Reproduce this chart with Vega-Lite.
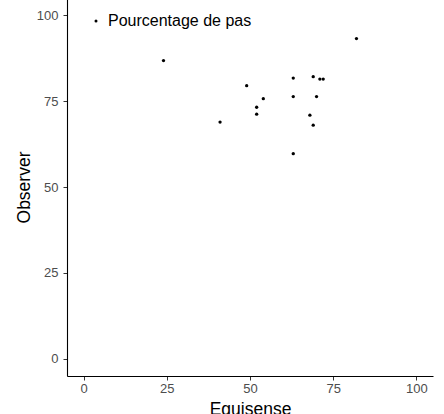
{
  "$schema": "https://vega.github.io/schema/vega-lite/v6.json",
  "autosize": {"type": "none"},
  "width": 366,
  "height": 378,
  "padding": {"left": 67, "top": -2, "right": 11, "bottom": 38},
  "background": "white",
  "config": {
    "view": {"stroke": null},
    "font": "Liberation Sans",
    "axis": {
      "grid": false,
      "domainColor": "black",
      "domainWidth": 1.1,
      "tickColor": "#333333",
      "tickSize": 4,
      "labelColor": "#4D4D4D",
      "labelFontSize": 13,
      "labelFont": "Liberation Sans",
      "titleFont": "Liberation Sans",
      "titleFontSize": 17.5,
      "titleFontWeight": "normal",
      "titleColor": "black"
    }
  },
  "data": {
    "values": [
      {"Equisense": 24, "Observer": 86.8},
      {"Equisense": 41, "Observer": 68.9},
      {"Equisense": 49, "Observer": 79.5},
      {"Equisense": 52, "Observer": 73.2},
      {"Equisense": 52, "Observer": 71.2},
      {"Equisense": 54, "Observer": 75.7},
      {"Equisense": 63, "Observer": 81.7},
      {"Equisense": 63, "Observer": 76.3},
      {"Equisense": 63, "Observer": 59.7},
      {"Equisense": 69, "Observer": 82.1},
      {"Equisense": 71, "Observer": 81.4},
      {"Equisense": 72, "Observer": 81.4},
      {"Equisense": 70, "Observer": 76.3},
      {"Equisense": 68, "Observer": 70.9},
      {"Equisense": 69, "Observer": 68.0},
      {"Equisense": 82, "Observer": 93.2}
    ]
  },
  "mark": {"type": "circle", "size": 11, "opacity": 1},
  "encoding": {
    "x": {
      "field": "Equisense", "type": "quantitative",
      "scale": {"domain": [-5, 105], "nice": false, "zero": false},
      "axis": {"values": [0, 25, 50, 75, 100], "title": "Equisense", "titlePadding": 5, "labelPadding": 2}
    },
    "y": {
      "field": "Observer", "type": "quantitative",
      "scale": {"domain": [-5, 105], "nice": false, "zero": false},
      "axis": {"values": [0, 25, 50, 75, 100], "title": "Observer", "titlePadding": 3, "labelPadding": 5}
    },
    "color": {
      "datum": "Pourcentage de pas",
      "type": "nominal",
      "scale": {"range": ["black"]},
      "legend": {
        "title": null,
        "orient": "none",
        "legendX": 21,
        "legendY": 15,
        "symbolType": "circle",
        "symbolSize": 9,
        "labelFontSize": 16,
        "labelColor": "black",
        "labelFont": "Liberation Sans",
        "labelOffset": 4
      }
    }
  }
}
